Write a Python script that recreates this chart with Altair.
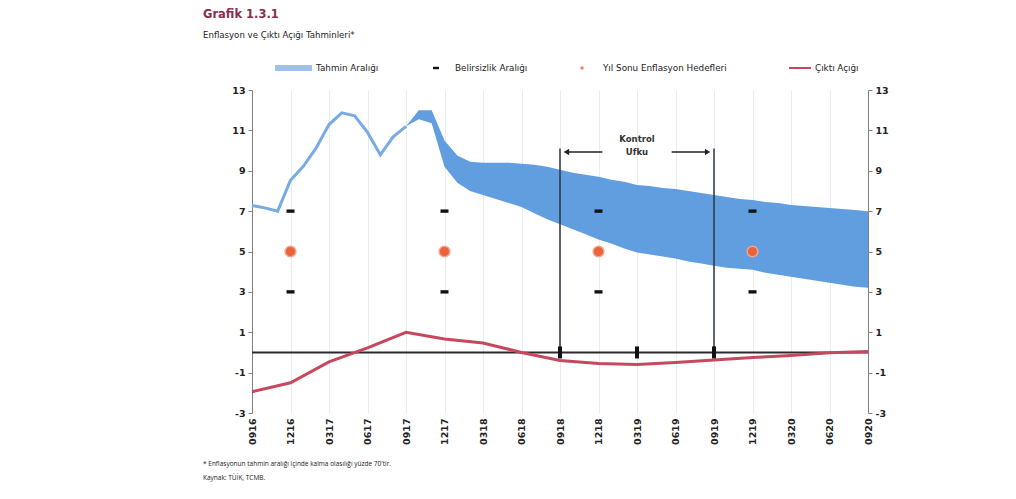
import altair as alt
import pandas as pd

# Quarter tick labels (MMYY), one every three months from Sep 2016 to Sep 2020
tick_labels = ["0916", "1216", "0317", "0617", "0917", "1217", "0318", "0618",
               "0918", "1218", "0319", "0619", "0919", "1219", "0320", "0620", "0920"]

# Realised annual CPI inflation, monthly, Sep 2016 - Sep 2017 (month index 0..12)
cpi_months = list(range(0, 13))
cpi_actual = [7.28, 7.16, 7.00, 8.53, 9.22, 10.13, 11.29, 11.87, 11.72, 10.90, 9.79, 10.68, 11.20]

# Forecast range, monthly, Sep 2017 - Sep 2020 (month index 12..48)
band_months = list(range(12, 49))
band_low = [11.2, 11.55, 11.35, 9.2, 8.4, 8.0, 7.8, 7.6, 7.4, 7.2, 6.9, 6.6, 6.35,
            6.1, 5.85, 5.6, 5.4, 5.15, 4.95, 4.85, 4.75, 4.65, 4.5, 4.4, 4.3,
            4.2, 4.15, 4.1, 3.95, 3.85, 3.75, 3.65, 3.55, 3.45, 3.35, 3.25, 3.2]
band_high = [11.2, 12.0, 12.0, 10.5, 9.75, 9.45, 9.4, 9.4, 9.4, 9.35, 9.3, 9.2, 9.05,
             8.9, 8.8, 8.7, 8.55, 8.45, 8.3, 8.25, 8.15, 8.1, 8.0, 7.9, 7.8,
             7.7, 7.6, 7.55, 7.45, 7.4, 7.3, 7.25, 7.2, 7.15, 7.1, 7.05, 7.0]

# Output gap, quarterly
gap_months = list(range(0, 49, 3))
output_gap = [-1.95, -1.5, -0.47, 0.23, 1.0, 0.67, 0.47, 0.0, -0.4, -0.55, -0.6,
              -0.5, -0.37, -0.25, -0.15, -0.02, 0.05]

# Year-end inflation targets and their uncertainty band
target_months = [3, 15, 27, 39]
inflation_targets = [5, 5, 5, 5]
uncertainty_low = [3, 3, 3, 3]
uncertainty_high = [7, 7, 7, 7]

# Control horizon
horizon_months = [24, 36]
horizon_marks = [24, 30, 36]
horizon_top = 10.1
arrow_level = 9.93

FONT = "DejaVu Sans"
BAND = "#5799dd"
HIST = "#78aae3"
GAP = "#c7475f"
DARK = "#222222"
ORANGE = "#e8643c"

x_scale = alt.Scale(domain=[0, 48], nice=False, zero=False)
y_scale = alt.Scale(domain=[-3, 13], nice=False, zero=False)

label_array = "[" + ",".join(f"'{t}'" for t in tick_labels) + "]"
x_axis = alt.Axis(values=list(range(0, 49, 3)), labelExpr=label_array + "[round(datum.value / 3)]",
                  labelAngle=270, labelFont=FONT, labelFontSize=9.5, labelFontWeight="bold",
                  labelColor=DARK, labelPadding=5, domain=False, ticks=False, grid=True,
                  gridColor="#e7edf1", gridWidth=1, title=None)


def y_axis(orient):
    return alt.Axis(orient=orient, values=list(range(-3, 14, 2)),
                    labelExpr="replace(datum.label, '\u2212', '-')", labelFont=FONT,
                    labelFontSize=9.5, labelFontWeight="bold", labelColor=DARK,
                    domainColor="#808080", tickColor="#808080", tickSize=4,
                    labelPadding=3, grid=False, title=None)


band_df = pd.DataFrame({"t": band_months, "low": band_low, "high": band_high})
hist_df = pd.DataFrame({"t": cpi_months, "cpi": cpi_actual})
gap_df = pd.DataFrame({"t": gap_months, "gap": output_gap})
target_df = pd.DataFrame({"t": target_months, "target": inflation_targets,
                          "lo": uncertainty_low, "hi": uncertainty_high})
horizon_df = pd.DataFrame({"t": horizon_months, "base": [0, 0], "top": [horizon_top] * 2})
hmark_df = pd.DataFrame({"t": horizon_marks, "v": [0] * len(horizon_marks)})

# Quarter grid lines and bottom labels
grid = alt.Chart(pd.DataFrame({"t": [0, 48]})).mark_point(opacity=0).encode(
    x=alt.X("t:Q", scale=x_scale, axis=x_axis),
)

band = alt.Chart(band_df).mark_area(color=BAND, opacity=0.95).encode(
    x=alt.X("t:Q", scale=x_scale, axis=None),
    y=alt.Y("low:Q", scale=y_scale, axis=y_axis("left")),
    y2="high:Q",
)

hist = alt.Chart(hist_df).mark_line(color=HIST, strokeWidth=3).encode(
    x=alt.X("t:Q", scale=x_scale, axis=None),
    y=alt.Y("cpi:Q", scale=y_scale, axis=None),
)

zero = alt.Chart(pd.DataFrame({"v": [0]})).mark_rule(color="#2b2b2b", strokeWidth=2).encode(
    y=alt.Y("v:Q", scale=y_scale, axis=None),
)

gap = alt.Chart(gap_df).mark_line(color=GAP, strokeWidth=3).encode(
    x=alt.X("t:Q", scale=x_scale, axis=None),
    y=alt.Y("gap:Q", scale=y_scale, axis=y_axis("right")),
)

horizon = alt.Chart(horizon_df).mark_rule(color="#2a3540", strokeWidth=1.5).encode(
    x=alt.X("t:Q", scale=x_scale, axis=None),
    y=alt.Y("base:Q", scale=y_scale, axis=None),
    y2="top:Q",
)

hmarks = alt.Chart(hmark_df).mark_point(
    shape="M-0.33,-1H0.33V1H-0.33Z", filled=True, color="#111111", opacity=1, size=144
).encode(
    x=alt.X("t:Q", scale=x_scale, axis=None),
    y=alt.Y("v:Q", scale=y_scale, axis=None),
)

dash_shape = "M-1,-0.42H1V0.42H-1Z"
dash_lo = alt.Chart(target_df).mark_point(shape=dash_shape, filled=True, color="#111111",
                                          opacity=1, size=64).encode(
    x=alt.X("t:Q", scale=x_scale, axis=None),
    y=alt.Y("lo:Q", scale=y_scale, axis=None),
)
dash_hi = alt.Chart(target_df).mark_point(shape=dash_shape, filled=True, color="#111111",
                                          opacity=1, size=64).encode(
    x=alt.X("t:Q", scale=x_scale, axis=None),
    y=alt.Y("hi:Q", scale=y_scale, axis=None),
)

targets = alt.Chart(target_df).mark_circle(color=ORANGE, opacity=1, size=115,
                                           stroke="#f3a58a", strokeWidth=1.5).encode(
    x=alt.X("t:Q", scale=x_scale, axis=None),
    y=alt.Y("target:Q", scale=y_scale, axis=None),
)

# Arrows for the control horizon
arrow_df = pd.DataFrame({"a": [24.6, 32.7], "b": [27.3, 35.4], "v": [arrow_level] * 2})
arrow_lines = alt.Chart(arrow_df).mark_rule(color=DARK, strokeWidth=1.3).encode(
    x=alt.X("a:Q", scale=x_scale, axis=None),
    x2="b:Q",
    y=alt.Y("v:Q", scale=y_scale, axis=None),
)
head_df = pd.DataFrame({"t": [24.5, 35.5], "v": [arrow_level] * 2,
                        "dir": ["left", "right"]})
heads = alt.Chart(head_df).mark_point(filled=True, color=DARK, opacity=1, size=40).encode(
    x=alt.X("t:Q", scale=x_scale, axis=None),
    y=alt.Y("v:Q", scale=y_scale, axis=None),
    shape=alt.Shape("dir:N", scale=alt.Scale(domain=["left", "right"],
                                             range=["triangle-left", "triangle-right"]),
                    legend=None),
)

horizon_text = alt.Chart(pd.DataFrame({"t": [30, 30], "v": [10.57, 9.93],
                                       "label": ["Kontrol", "Ufku"]})).mark_text(
    font=FONT, fontSize=8.5, fontWeight="bold", color="#333333", align="center",
    baseline="middle"
).encode(
    x=alt.X("t:Q", scale=x_scale, axis=None),
    y=alt.Y("v:Q", scale=y_scale, axis=None),
    text="label:N",
)


def note(text, x, y, size, color=DARK, weight="normal", font=FONT):
    return alt.Chart(pd.DataFrame({"label": [text]})).mark_text(
        font=font, fontSize=size, fontWeight=weight, color=color, align="left", baseline="middle"
    ).encode(x=alt.value(x), y=alt.value(y), text="label:N")


one = pd.DataFrame({"k": [0]})

# Legend row above the plot
leg_y = -22
leg_band = alt.Chart(one).mark_rect(color="#9fc0ea").encode(
    x=alt.value(23), x2=alt.value(60), y=alt.value(leg_y - 3), y2=alt.value(leg_y + 3))
leg_dash = alt.Chart(one).mark_rect(color="#111111").encode(
    x=alt.value(181), x2=alt.value(187), y=alt.value(leg_y - 1.2), y2=alt.value(leg_y + 1.2))
leg_dot = alt.Chart(one).mark_circle(color=ORANGE, opacity=0.8, size=12).encode(
    x=alt.value(330), y=alt.value(leg_y))
leg_line = alt.Chart(one).mark_rule(color=GAP, strokeWidth=2).encode(
    x=alt.value(537), x2=alt.value(559), y=alt.value(leg_y))

legend_texts = [
    note("Tahmin Aralığı", 64, leg_y, 8.8),
    note("Belirsizlik Aralığı", 203, leg_y, 8.8),
    note("Yıl Sonu Enflasyon Hedefleri", 351, leg_y, 8.8),
    note("Çıktı Açığı", 563, leg_y, 8.8),
]

titles = [
    note("Grafik 1.3.1", -49, -75, 11.5, color="#8b2d4e", weight="bold"),
    note("Enflasyon ve Çıktı Açığı Tahminleri*", -49, -55, 8.6),
    note("* Enflasyonun tahmin aralığı içinde kalma olasılığı yüzde 70'tir.", -49, 374, 6.5,
         font="Open Sans"),
    note("Kaynak: TÜİK, TCMB.", -49, 388, 6.5, font="Open Sans"),
]

chart = alt.layer(
    grid, band, hist, zero, gap, horizon, hmarks, dash_lo, dash_hi, targets,
    arrow_lines, heads, horizon_text,
    leg_band, leg_dash, leg_dot, leg_line, *legend_texts, *titles,
).resolve_axis(x="independent", y="independent").properties(
    width=616, height=323,
    autosize=alt.AutoSizeParams(type="none"),
    padding={"left": 252, "top": 90, "right": 148, "bottom": 86},
    background="white",
).configure_view(stroke=None)

chart.save("out.html", embed_options={"renderer": "svg", "actions": False})
